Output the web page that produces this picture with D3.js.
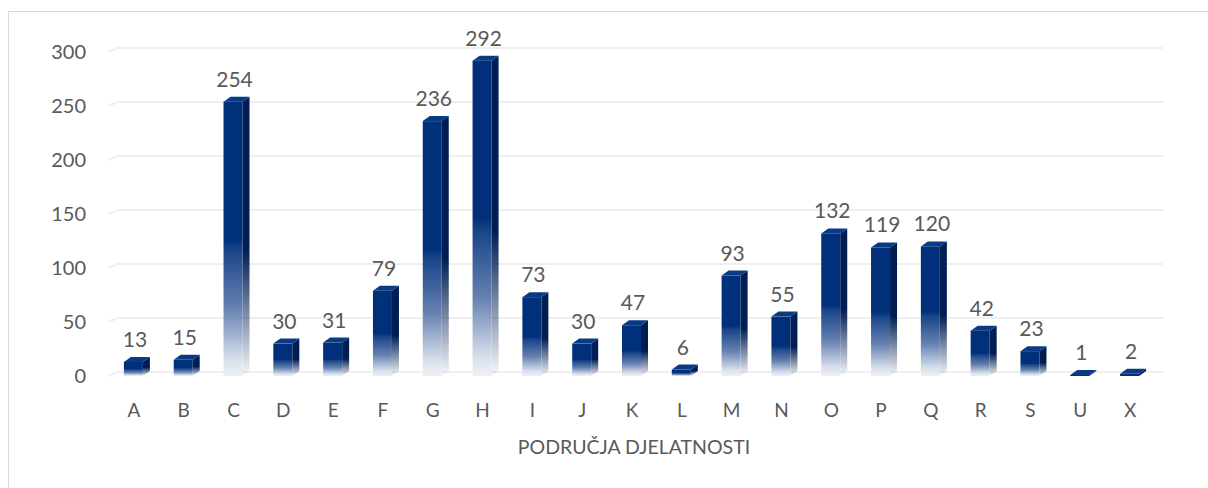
<!DOCTYPE html>
<html>
<head>
<meta charset="utf-8">
<script src="https://cdn.jsdelivr.net/npm/d3@7"></script>
<style>
  body { margin: 0; background: #fff; }
  text { font-family: Lato, "Open Sans", sans-serif; fill: #595959; }
</style>
</head>
<body>
<div id="chart"></div>
<script>
// categories and values
const categories = ["A", "B", "C", "D", "E", "F", "G", "H", "I", "J", "K", "L", "M", "N", "O", "P", "Q", "R", "S", "U", "X"];
const values = [13, 15, 254, 30, 31, 79, 236, 292, 73, 30, 47, 6, 93, 55, 132, 119, 120, 42, 23, 1, 2];
const yTicks = [0, 50, 100, 150, 200, 250, 300];
const axisTitle = "PODRUČJA DJELATNOSTI";

const width = 1208, height = 488;
const depthX = 7, depthY = 5; // 3D offset

const svg = d3.select("#chart").append("svg")
  .attr("width", width)
  .attr("height", height);

const defs = svg.append("defs");

// front face gradient: solid navy on top, fading towards the floor
const front = defs.append("linearGradient")
  .attr("id", "front-grad")
  .attr("x1", 0).attr("y1", 0).attr("x2", 0).attr("y2", 1);
front.selectAll("stop")
  .data([
    { offset: "0%", color: "#003079" },
    { offset: "50%", color: "#003079" },
    { offset: "54%", color: "#1a4588" },
    { offset: "75%", color: "#6580b0" },
    { offset: "94%", color: "#d8e0ec" },
    { offset: "100%", color: "#eef1f6" },
  ])
  .join("stop")
  .attr("offset", (d) => d.offset)
  .attr("stop-color", (d) => d.color);

const side = defs.append("linearGradient")
  .attr("id", "side-grad")
  .attr("x1", 0).attr("y1", 0).attr("x2", 0).attr("y2", 1);
side.selectAll("stop")
  .data([
    { offset: "0%", color: "#001e52", op: 1 },
    { offset: "55%", color: "#001e52", op: 1 },
    { offset: "100%", color: "#001e52", op: 0.03 },
  ])
  .join("stop")
  .attr("offset", (d) => d.offset)
  .attr("stop-color", (d) => d.color)
  .attr("stop-opacity", (d) => d.op);

// outer border
svg.append("rect")
  .attr("x", 8.5).attr("y", 11.5)
  .attr("width", 1220).attr("height", 500)
  .attr("fill", "none")
  .attr("stroke", "#d9d9d9");

// scales
const x = d3.scaleBand()
  .domain(categories)
  .range([109, 1155])
  .paddingInner(0)
  .paddingOuter(0);

const y = d3.scaleLinear()
  .domain([0, 300])
  .range([376, 52]);

// gridlines (back wall + slanted side-wall edge)
const grid = svg.append("g")
  .attr("stroke", "#efefef")
  .attr("stroke-width", 2)
  .attr("fill", "none");

grid.selectAll("path")
  .data(yTicks)
  .join("path")
  .attr("d", (d) => `M108,${y(d)} L${108 + 10},${y(d) - 4} L1163,${y(d) - 4}`);

// y tick labels
svg.append("g")
  .selectAll("text")
  .data(yTicks)
  .join("text")
  .attr("x", 86)
  .attr("y", (d) => y(d))
  .attr("dy", "0.35em")
  .attr("text-anchor", "end")
  .attr("font-size", 20)
  .text((d) => d);

// bars
const barW = 19;
const bars = svg.append("g")
  .selectAll("g")
  .data(categories.map((c, i) => ({ cat: c, value: values[i] })))
  .join("g");

bars.each(function (d) {
  const g = d3.select(this);
  const cx = x(d.cat) + x.bandwidth() / 2;
  const x0 = cx - 10;
  const x1 = x0 + barW;
  const yt = y(d.value);
  const yb = y(0);
  const h = Math.max(yb - yt, 0.5);

  // side face
  g.append("path")
    .attr("d", `M${x1},${yt} L${x1 + depthX},${yt - depthY} L${x1 + depthX},${yb - depthY} L${x1},${yb} Z`)
    .attr("fill", h > 6 ? "url(#side-grad)" : "#001e52");

  // front face
  g.append("rect")
    .attr("x", x0)
    .attr("y", yt)
    .attr("width", barW)
    .attr("height", h)
    .attr("fill", h > 6 ? "url(#front-grad)" : "#003079");

  // top face
  g.append("path")
    .attr("d", `M${x0},${yt} L${x0 + depthX},${yt - depthY} L${x1 + depthX},${yt - depthY} L${x1},${yt} Z`)
    .attr("fill", "#0a3a85");
});

// value labels
svg.append("g")
  .selectAll("text")
  .data(values)
  .join("text")
  .attr("x", (d, i) => x(categories[i]) + x.bandwidth() / 2 + 1)
  .attr("y", (d) => y(d) - depthY - 10)
  .attr("text-anchor", "middle")
  .attr("font-size", 21)
  .text((d) => d);

// x category labels
svg.append("g")
  .selectAll("text")
  .data(categories)
  .join("text")
  .attr("x", (d) => x(d) + x.bandwidth() / 2)
  .attr("y", 417)
  .attr("text-anchor", "middle")
  .attr("font-size", 19)
  .text((d) => d);

// axis title
svg.append("text")
  .attr("x", 634)
  .attr("y", 454)
  .attr("text-anchor", "middle")
  .attr("font-size", 19.5)
  .text(axisTitle);
</script>
</body>
</html>
